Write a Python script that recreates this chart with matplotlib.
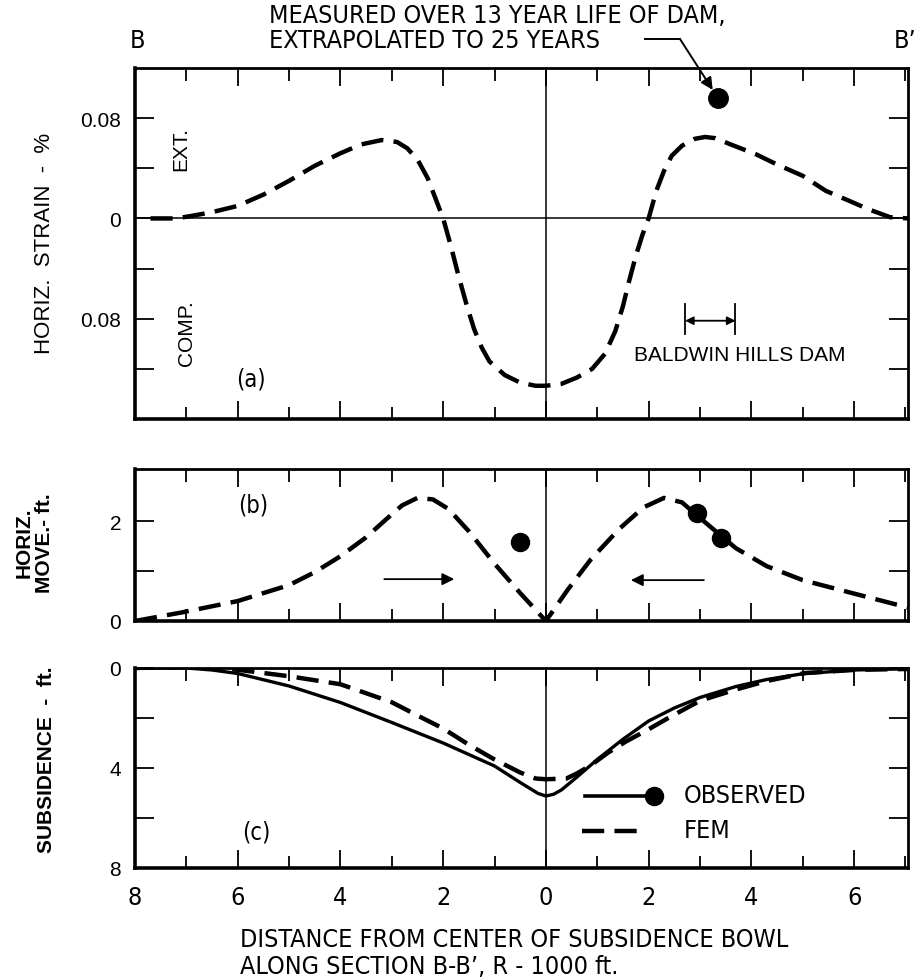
import os
import numpy as np
import matplotlib.pyplot as plt
from matplotlib import font_manager

# -----------------------
# Data
# -----------------------
# (a) horizontal strain, %  (positive = extension)
strain_x = [-7.7, -7.2, -6.9, -6.5, -6.0, -5.5, -5.0, -4.5, -4.0, -3.6, -3.2, -2.9,
            -2.7, -2.5, -2.3, -2.15, -2.0, -1.85, -1.7, -1.55, -1.4, -1.25, -1.1,
            -0.8, -0.5, -0.2, 0.0, 0.3, 0.6, 0.9, 1.15, 1.35, 1.5, 1.62, 1.75, 1.88,
            2.0, 2.15, 2.3, 2.45, 2.65, 2.9, 3.1, 3.3, 3.6, 4.1, 4.5, 5.0, 5.45, 5.85,
            6.3, 6.7, 7.05]
strain_fem = [0.0, 0.0, 0.002, 0.005, 0.010, 0.019, 0.030, 0.042, 0.052, 0.059, 0.0625,
              0.061, 0.056, 0.047, 0.032, 0.016, 0.0, -0.022, -0.046, -0.068, -0.088,
              -0.103, -0.114, -0.125, -0.131, -0.1335, -0.1335, -0.132, -0.127, -0.120,
              -0.108, -0.090, -0.070, -0.050, -0.030, -0.013, 0.0, 0.022, 0.038, 0.050,
              0.058, 0.0635, 0.065, 0.064, 0.059, 0.051, 0.043, 0.034, 0.022, 0.015,
              0.007, 0.001, 0.0]
strain_obs_x = [3.35]
strain_obs = [0.096]

# (b) horizontal movement, ft
move_x = [-8.0, -7.1, -6.0, -5.0, -4.5, -4.0, -3.5, -3.1, -2.8, -2.5, -2.2, -1.9,
          -1.5, -1.0, -0.5, 0.0, 0.42, 0.87, 1.43, 1.9, 2.3, 2.65, 3.1, 3.7, 4.3,
          5.0, 6.0, 7.05]
move_fem = [0.0, 0.17, 0.40, 0.72, 0.98, 1.30, 1.68, 2.05, 2.32, 2.47, 2.44, 2.25,
            1.80, 1.15, 0.56, 0.0, 0.62, 1.23, 1.85, 2.28, 2.47, 2.38, 1.98, 1.46,
            1.10, 0.82, 0.55, 0.27]
move_obs_x = [-0.5, 2.95, 3.4]
move_obs = [1.58, 2.17, 1.66]

# (c) subsidence, ft
sub_obs_x = [-8.0, -7.0, -6.5, -6.0, -5.0, -4.0, -3.0, -2.0, -1.0, -0.5, -0.15, 0.0,
             0.15, 0.3, 0.6, 1.0, 1.5, 2.0, 2.5, 3.0, 3.7, 4.3, 5.0, 6.0, 7.05]
sub_obs = [0.0, 0.0, 0.08, 0.22, 0.72, 1.38, 2.18, 3.0, 3.92, 4.58, 5.02, 5.12,
           5.05, 4.88, 4.37, 3.66, 2.85, 2.12, 1.6, 1.18, 0.74, 0.46, 0.23, 0.08, 0.03]
sub_fem_x = [-8.0, -7.0, -6.0, -5.0, -4.0, -3.0, -2.5, -2.0, -1.5, -1.0, -0.5, -0.2,
             0.0, 0.4, 0.6, 0.87, 1.2, 1.55, 2.0, 2.4, 3.0, 3.7, 4.3, 5.05, 6.05, 7.05]
sub_fem = [0.0, -0.05, 0.07, 0.33, 0.65, 1.37, 1.9, 2.42, 3.07, 3.66, 4.18, 4.42,
           4.45, 4.42, 4.22, 3.9, 3.4, 2.95, 2.45, 1.98, 1.31, 0.86, 0.52, 0.2, 0.07, 0.04]

# -----------------------
# Fonts: Helvetica-like for most text, a condensed face for the lettering
# -----------------------
installed = {f.name for f in font_manager.fontManager.ttflist}
REG = "Liberation Sans" if "Liberation Sans" in installed else "DejaVu Sans"

narrow_file = None
for key in ["LiberationSansNarrow-Regular", "DejaVuSansCondensed.ttf",
            "RobotoCondensed-Regular", "OpenSans_Condensed-Regular", "Roboto_Condensed"]:
    for f in font_manager.fontManager.ttflist:
        if key in os.path.basename(f.fname):
            narrow_file = f.fname
            break
    if narrow_file:
        break

plt.rcParams["font.family"] = REG


def nfont(size):
    if narrow_file:
        return font_manager.FontProperties(fname=narrow_file, size=size)
    return font_manager.FontProperties(family=REG, size=size * 0.85)


W, H = 924, 979


def fx(px):
    return px / W


def fy(py):
    return 1 - py / H


LEFT, RIGHT = 135, 908
fig = plt.figure(figsize=(W / 100, H / 100), dpi=100)
ax_a = fig.add_axes([fx(LEFT), fy(420), fx(RIGHT - LEFT), (420 - 69) / H])
ax_b = fig.add_axes([fx(LEFT), fy(622), fx(RIGHT - LEFT), (622 - 470) / H])
ax_c = fig.add_axes([fx(LEFT), fy(869), fx(RIGHT - LEFT), (869 - 669) / H])

DASH = dict(color="black", lw=3.2, dashes=(5, 2.3), solid_capstyle="butt")


def base_style(ax):
    ax.set_xlim(-8, 7.05)
    ax.set_xticks(np.arange(-8, 7, 2))
    ax.set_xticks(np.arange(-7, 8, 2), minor=True)
    ax.tick_params(which="both", direction="in", top=True, right=True, width=1.3)
    ax.tick_params(axis="x", which="major", length=13)
    ax.tick_params(axis="x", which="minor", length=9)
    ax.tick_params(axis="y", which="both", length=14, labelsize=15, pad=10)
    ax.tick_params(axis="x", labelbottom=False)
    ax.axvline(0, color="black", lw=1.1, zorder=1)
    for s in ax.spines.values():
        s.set_linewidth(2.0)
    ax.spines["left"].set_linewidth(2.6)
    ax.spines["bottom"].set_linewidth(2.6)


for ax in (ax_a, ax_b, ax_c):
    base_style(ax)

# -----------------------
# (a) strain
# -----------------------
ax_a.set_ylim(-0.16, 0.12)
ax_a.set_yticks([-0.08, 0, 0.08])
ax_a.set_yticklabels(["0.08", "0", "0.08"])
ax_a.set_yticks([-0.12, -0.04, 0.04], minor=True)
ax_a.axhline(0, color="black", lw=1.1, zorder=1)
ax_a.plot(strain_x, strain_fem, **DASH)
ax_a.plot(strain_obs_x, strain_obs, "o", color="black", ms=14)

ax_a.text(-7.1, 0.056, "EXT.", rotation=90, ha="center", va="center", fontsize=15)
ax_a.text(-7.0, -0.091, "COMP.", rotation=90, ha="center", va="center", fontsize=15)
ax_a.text(-5.75, -0.1275, "(a)", ha="center", va="center", fontproperties=nfont(17))
ax_a.text(1.71, -0.1085, "BALDWIN HILLS DAM", ha="left", va="center", fontsize=15)
for xb in (2.71, 3.69):
    ax_a.plot([xb, xb], [-0.068, -0.092], color="black", lw=1.3)
ax_a.annotate("", xy=(3.69, -0.0816), xytext=(2.71, -0.0816),
              arrowprops=dict(arrowstyle="<|-|>", lw=1.3, color="black", mutation_scale=12,
                              shrinkA=0, shrinkB=0))

# top annotation
fig.text(fx(269), fy(16), "MEASURED OVER 13 YEAR LIFE OF DAM,", ha="left", va="center",
         fontproperties=nfont(18))
fig.text(fx(269), fy(41), "EXTRAPOLATED TO 25 YEARS", ha="left", va="center",
         fontproperties=nfont(18))
fig.add_artist(plt.Line2D([fx(645), fx(680)], [fy(40), fy(40)], color="black", lw=1.4))
ax_a.annotate("", xy=(strain_obs_x[0], strain_obs[0]), xycoords="data",
              xytext=(680, H - 40), textcoords="figure pixels",
              arrowprops=dict(arrowstyle="-|>", lw=1.4, color="black", mutation_scale=18,
                              shrinkA=0, shrinkB=7))
fig.text(fx(137), fy(41), "B", ha="center", va="center", fontproperties=nfont(18))
fig.text(fx(917), fy(41), "B\u2019", ha="right", va="center", fontproperties=nfont(18))

# -----------------------
# (b) horizontal movement
# -----------------------
ax_b.set_ylim(0, 3.05)
ax_b.set_yticks([0, 2])
ax_b.set_yticks([1], minor=True)
ax_b.plot(move_x, move_fem, **DASH)
ax_b.plot(move_obs_x, move_obs, "o", color="black", ms=13)
ax_b.text(-5.7, 2.33, "(b)", ha="center", va="center", fontproperties=nfont(17))
ax_b.annotate("", xy=(-1.73, 0.84), xytext=(-3.2, 0.84),
              arrowprops=dict(arrowstyle="-|>", lw=1.3, color="black", mutation_scale=18))
ax_b.annotate("", xy=(1.6, 0.82), xytext=(3.13, 0.82),
              arrowprops=dict(arrowstyle="-|>", lw=1.3, color="black", mutation_scale=18))

# -----------------------
# (c) subsidence
# -----------------------
ax_c.set_ylim(8, 0)
ax_c.set_yticks([0, 4, 8])
ax_c.set_yticks([2, 6], minor=True)
ax_c.plot(sub_obs_x, sub_obs, color="black", lw=2.4)
ax_c.plot(sub_fem_x, sub_fem, **DASH)
ax_c.text(-5.63, 6.56, "(c)", ha="center", va="center", fontproperties=nfont(17))

# hand drawn key
ax_c.plot([0.76, 1.94], [5.1, 5.1], color="black", lw=2.6)
ax_c.plot([2.11], [5.1], "o", color="black", ms=13)
ax_c.text(2.68, 5.1, "OBSERVED", ha="left", va="center", fontproperties=nfont(18))
ax_c.plot([0.7, 1.89], [6.5, 6.5], **DASH)
ax_c.text(2.68, 6.5, "FEM", ha="left", va="center", fontproperties=nfont(18))

ax_c.tick_params(axis="x", labelbottom=True, pad=12)
ax_c.set_xticklabels([str(abs(int(v))) for v in ax_c.get_xticks()], fontproperties=nfont(18))

# -----------------------
# Axis labels
# -----------------------
fig.text(fx(45), fy(243), "HORIZ.  STRAIN  -  %", rotation=90, ha="center", va="center",
         fontsize=16)
fig.text(fx(34), fy(543), "HORIZ.\nMOVE.- ft.", rotation=90, ha="center", va="center",
         fontsize=15, fontweight="bold", linespacing=1.1)
fig.text(fx(47), fy(760), "SUBSIDENCE  -  ft.", rotation=90, ha="center", va="center",
         fontsize=15, fontweight="bold")
fig.text(fx(240), fy(940), "DISTANCE FROM CENTER OF SUBSIDENCE BOWL", ha="left", va="center",
         fontproperties=nfont(18))
fig.text(fx(240), fy(967), "ALONG SECTION B-B\u2019, R - 1000 ft.", ha="left", va="center",
         fontproperties=nfont(18))

fig.savefig("out.png", dpi=100)
